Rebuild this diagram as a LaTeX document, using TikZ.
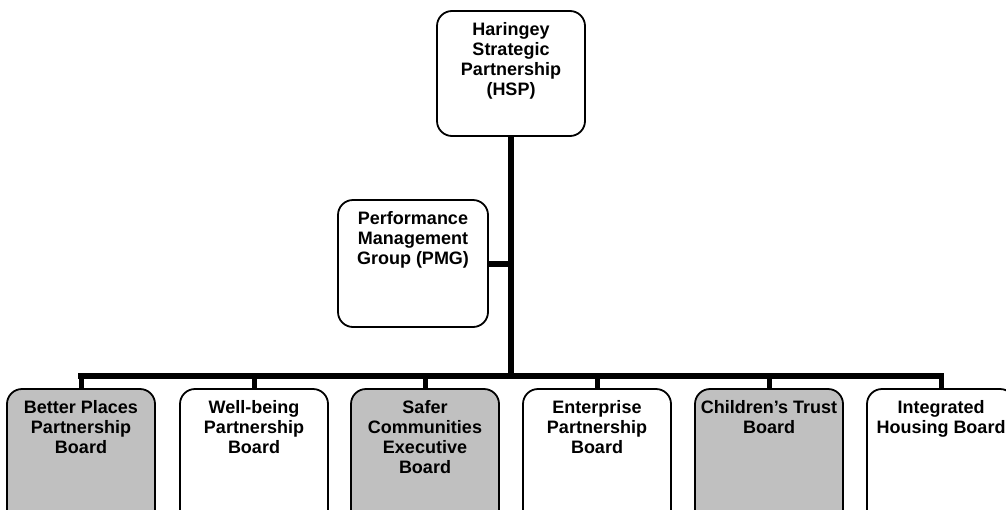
\documentclass[tikz,border=0pt]{standalone}
\usepackage{fontspec}
\setmainfont{Liberation Sans}
\usepackage{tikz}
\definecolor{boardgray}{HTML}{C0C0C0}

\begin{document}
\begin{tikzpicture}[x=1pt,y=-1pt,
    bnode/.style={draw,rounded corners=15pt,line width=1.8pt,minimum width=148pt,inner sep=0pt},
    gnode/.style={bnode,fill=boardgray},
    tnode/.style={anchor=north,inner sep=0pt,yshift=-12pt,align=center,font=\fontsize{18}{20}\selectfont\bfseries},
    conn/.style={line width=6pt}]
    \useasboundingbox (0,0) rectangle (1006,509);
    \clip (0,0) rectangle (1006,509);

    \node[bnode,minimum height=125pt] (hsp) at (511,73.5) {};
    \node[tnode] (hspt) at (hsp.north) {Haringey\\Strategic\\Partnership\\(HSP)};
    \node[bnode,minimum height=127pt,minimum width=150pt] (pmg) at (413,263.5) {};
    \node[tnode] (pmgt) at (pmg.north) {Performance\\Management\\Group (PMG)};

    \node[gnode,minimum height=142pt] (bp) at (81,460) {};
    \node[bnode,minimum height=142pt] (wb) at (254,460) {};
    \node[gnode,minimum height=142pt] (sc) at (425,460) {};
    \node[bnode,minimum height=142pt] (ep) at (597,460) {};
    \node[gnode,minimum height=142pt] (ct) at (769,460) {};
    \node[bnode,minimum height=142pt] (ih) at (941,460) {};

    \node[tnode] (bpt) at (bp.north) {Better Places\\Partnership\\Board};
    \node[tnode] (wbt) at (wb.north) {Well-being\\Partnership\\Board};
    \node[tnode] (sct) at (sc.north) {Safer\\Communities\\Executive\\Board};
    \node[tnode] (ept) at (ep.north) {Enterprise\\Partnership\\Board};
    \node[tnode] (ctt) at (ct.north) {Children’s Trust\\Board};
    \node[tnode] (iht) at (ih.north) {Integrated\\Housing Board};

    \coordinate (bus) at (512,376);

    \draw[conn] (hsp.south) -- (hsp.south |- bus);
    \draw[conn] (pmg.east) -- (pmg.east -| hsp.south);
    \draw[conn,line cap=rect] (bp.north |- bus) -- (ih.north |- bus);
    \foreach \b in {bp,wb,sc,ep,ct,ih}
        \draw[line width=5pt] (\b.north |- bus) -- (\b.north);
\end{tikzpicture}
\end{document}
